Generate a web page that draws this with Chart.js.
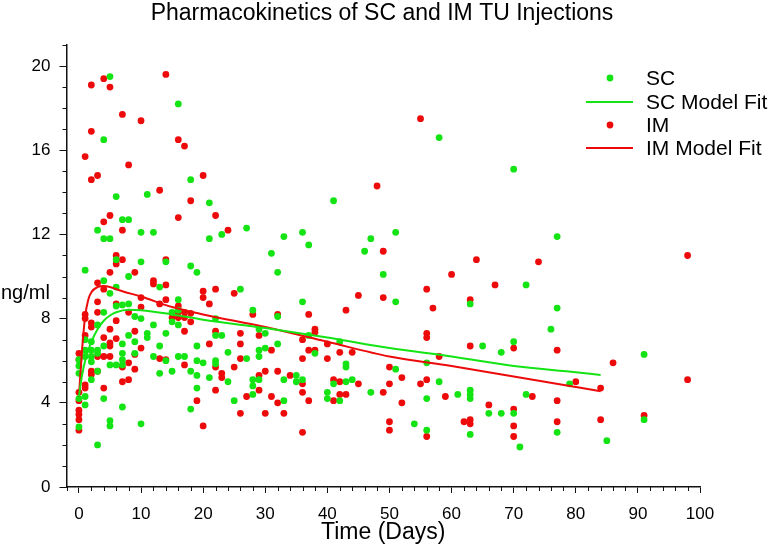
<!DOCTYPE html>
<html><head><meta charset="utf-8">
<style>html,body{margin:0;padding:0;background:#fff;}canvas{display:block;}</style>
<script src="https://cdn.jsdelivr.net/npm/chart.js@4"></script>
</head><body>
<canvas id="c" width="768" height="557"></canvas>
<script>
const chartTitle = "Pharmacokinetics of SC and IM TU Injections";
const xAxisTitle = "Time (Days)";
const yAxisTitle = "ng/ml";
const xTickValues = [0,10,20,30,40,50,60,70,80,90,100];
const yTickValues = [0,4,8,12,16,20];

const scDays = [5,16,4,18,6,11,21,7,8,3,10,12,4,5,23,21,27,33,36,41,47,58,70,51,77,37,46,31,18,19,32,26,36,16,28,32,22,22,23,29,30,37,38,42,19,32,29,30,24,27,29,17,16,19,20,22,22,18,19,21,24,28,28,28,29,33,35,35,36,19,25,33,18,40,40,41,42,43,43,43,44,47,49,51,72,63,77,76,65,68,70,51,56,58,56,61,63,63,63,72,66,68,70,54,56,63,71,77,79,91,91,85,1,6,10,14,8,4,13,5,6,6,7,8,4,9,10,15,15,16,16,12,3,1,8,11,11,14,2,2,3,3,2,2,1,1,0,0,0,2,3,4,5,6,7,7,7,7,9,9,13,14,12,13,15,0,1,1,4,7,0,5,5,10,3];
const scConc = [19.5,18.2,16.5,14.6,13.8,13.9,13.5,12.7,12.7,12.2,12.1,12.1,11.8,11.8,12.0,11.8,12.3,11.9,12.1,13.6,11.8,16.6,15.1,12.1,11.9,11.5,11.2,11.1,10.5,10.2,10.2,9.4,8.8,8.9,8.4,8.1,8.0,7.2,7.2,7.5,7.3,7.2,6.35,6.9,6.7,6.8,6.5,6.6,6.4,6.1,6.2,6.2,6.2,6.0,5.9,6.0,5.85,5.5,5.3,5.2,5.0,5.1,4.8,4.4,5.1,5.1,5.3,5.0,5.1,4.7,4.1,4.1,3.7,4.5,4.2,4.9,4.1,5.7,5.85,5.0,5.1,4.5,10.1,8.8,9.6,8.7,8.5,7.5,6.7,6.4,6.9,5.6,5.9,5.0,4.2,4.4,4.6,4.4,4.2,4.4,3.5,3.5,3.5,3.0,2.7,2.5,1.9,2.6,4.9,6.3,3.2,2.2,10.3,10.8,10.7,10.7,10.0,9.8,9.5,9.2,9.5,8.6,8.65,8.7,8.3,8.1,8.0,8.3,7.85,8.4,7.7,7.7,7.7,7.0,7.2,7.3,7.1,7.3,6.9,6.5,6.5,6.35,6.2,5.95,6.5,6.2,6.05,5.75,5.4,5.1,5.5,6.7,5.8,5.8,5.8,6.8,6.35,6.05,6.9,6.35,6.7,6.0,6.2,5.4,5.5,4.2,4.3,3.9,4.2,3.8,2.85,3.15,2.9,3.0,2.0];

const imDays = [2,4,5,14,7,10,2,16,17,1,8,2,3,20,13,18,5,4,16,7,22,24,48,55,6,6,7,14,5,9,3,12,12,14,4,10,3,13,14,6,10,8,3,1,1,6,5,2,2,1,4,5,6,5,9,0,0,2,2,3,4,3,5,7,9,8,10,9,7,8,13,14,0,0,1,1,4,0,0,0,0,16,16,17,15,16,17,18,18,17,20,20,22,21,25,45,43,37,28,32,38,38,22,26,29,36,37,38,40,42,44,40,36,21,26,31,26,17,22,25,23,23,29,30,29,32,34,36,36,22,19,27,31,32,37,26,30,33,20,36,41,42,42,43,41,45,49,49,64,74,60,56,67,57,63,56,56,63,70,77,58,50,52,50,49,55,56,52,59,73,77,66,70,62,63,63,50,50,56,70,70,77,80,98,86,84,98,84,91];
const imConc = [19.1,19.4,19.0,19.6,17.7,17.4,16.9,16.5,16.2,15.7,15.3,14.6,14.8,14.8,14.1,13.6,12.9,12.6,12.8,12.2,12.9,12.2,14.3,17.5,11.0,10.6,10.8,10.8,10.2,10.2,9.7,9.8,9.65,9.6,9.4,9.0,8.8,8.7,8.9,8.7,8.55,8.3,8.3,8.2,8.0,7.9,7.5,7.8,7.6,7.2,7.1,6.85,7.05,6.7,7.4,6.35,6.05,5.5,5.35,5.5,6.2,6.2,6.2,5.7,6.3,5.9,6.6,5.6,5.0,5.1,6.1,6.05,4.5,4.1,4.85,4.7,4.7,3.65,3.45,3.2,2.7,8.6,8.3,8.3,8.05,8.05,8.05,8.25,7.85,7.4,9.3,9.0,9.4,8.7,9.2,9.1,8.4,8.2,8.2,8.2,7.5,7.35,7.4,7.3,7.2,7.0,6.5,6.5,6.8,6.4,6.4,6.1,6.1,6.8,6.8,6.5,6.1,5.8,5.7,5.7,5.4,5.2,5.3,5.5,4.6,5.5,5.3,4.9,4.5,4.6,4.1,4.3,4.3,4.0,4.1,3.5,3.5,3.5,2.9,2.6,5.1,5.0,4.4,4.4,4.1,4.9,11.2,9.0,10.8,10.7,10.1,9.4,9.6,8.5,8.9,7.3,7.1,6.7,6.6,6.5,6.2,5.7,5.2,4.9,4.5,4.9,5.1,4.0,4.3,4.3,4.1,3.9,3.7,3.1,3.2,3.0,3.1,2.7,2.4,2.9,2.4,3.1,5.0,11.0,5.9,4.7,5.1,3.2,3.4];

const scFitDays = [0,0.5,1,1.5,2,3,4,5,6,8,10,15,20,30,40,50,60,70,80,84];
const scFitConc = [4.3,5.3,6.0,6.5,6.9,7.5,7.9,8.15,8.3,8.42,8.4,8.2,7.95,7.55,7.1,6.6,6.2,5.75,5.45,5.32];
const imFitDays = [0,0.5,1,1.5,2,3,4,5,7,10,15,20,30,40,50,60,70,80,84];
const imFitConc = [4.3,6.5,8.1,8.9,9.25,9.5,9.55,9.5,9.3,9.05,8.55,8.2,7.6,6.9,6.2,5.75,5.25,4.75,4.55];

const GREEN = '#14e314';
const RED = '#ec0a0a';
const FONT = "'Liberation Sans', Arial, sans-serif";

const toXY = (xs, ys) => xs.map((v, i) => ({x: v, y: ys[i]}));

const decor = {
  id: 'decor',
  afterDraw(chart) {
    const {ctx, scales: {x, y}} = chart;
    ctx.save();
    ctx.strokeStyle = '#111';
    ctx.lineWidth = 1;
    const axisY = y.bottom;
    for (let v = x.min; v <= x.max; v += 2) {
      if (v % 10 === 0) continue;
      const px = Math.round(x.getPixelForValue(v)) + 0.5;
      ctx.beginPath(); ctx.moveTo(px, axisY); ctx.lineTo(px, axisY + 4); ctx.stroke();
    }
    const axisX = x.left;
    for (let v = y.min; v <= y.max; v += 1) {
      if (v % 4 === 0) continue;
      const py = Math.round(y.getPixelForValue(v)) + 0.5;
      ctx.beginPath(); ctx.moveTo(axisX, py); ctx.lineTo(axisX - 4, py); ctx.stroke();
    }
    ctx.fillStyle = '#000';
    ctx.font = '23px ' + FONT;
    ctx.textAlign = 'center'; ctx.textBaseline = 'middle';
    ctx.fillText(chartTitle, 382, 14);
    ctx.font = '20px ' + FONT;
    ctx.textAlign = 'left'; ctx.textBaseline = 'alphabetic';
    ctx.fillText(yAxisTitle, 1, 299);
    // legend
    ctx.font = '21px ' + FONT;
    const rows = [78, 102, 125, 148];
    chart.data.datasets.forEach((ds, i) => {
      const ry = rows[i];
      if (ds.showLine) {
        ctx.strokeStyle = ds.borderColor; ctx.lineWidth = 2;
        ctx.beginPath(); ctx.moveTo(586, ry); ctx.lineTo(633, ry); ctx.stroke();
      } else {
        ctx.fillStyle = ds.pointBackgroundColor;
        ctx.beginPath(); ctx.arc(610, ry, 3.4, 0, Math.PI * 2); ctx.fill();
      }
      ctx.fillStyle = '#000';
      ctx.textBaseline = 'middle';
      ctx.fillText(ds.label, 646, ry + 1);
    });
    ctx.restore();
  }
};

new Chart(document.getElementById('c'), {
  type: 'scatter',
  data: {
    datasets: [
      {label: 'SC', data: toXY(scDays, scConc), showLine: false, pointRadius: 3.4, pointBorderWidth: 0,
       pointBackgroundColor: GREEN, backgroundColor: GREEN, borderColor: GREEN, order: 2},
      {label: 'SC Model Fit', data: toXY(scFitDays, scFitConc), showLine: true, pointRadius: 0,
       borderColor: GREEN, borderWidth: 2, cubicInterpolationMode: 'monotone', order: 0},
      {label: 'IM', data: toXY(imDays, imConc), showLine: false, pointRadius: 3.4, pointBorderWidth: 0,
       pointBackgroundColor: RED, backgroundColor: RED, borderColor: RED, order: 3},
      {label: 'IM Model Fit', data: toXY(imFitDays, imFitConc), showLine: true, pointRadius: 0,
       borderColor: RED, borderWidth: 2, cubicInterpolationMode: 'monotone', order: 1}
    ]
  },
  options: {
    responsive: false,
    animation: false,
    devicePixelRatio: 1,
    layout: {padding: {left: 0, right: 68, top: 45, bottom: 0}},
    plugins: {legend: {display: false}, title: {display: false}, tooltip: {enabled: false}},
    scales: {
      x: {
        type: 'linear', min: -2, max: 100,
        afterBuildTicks: s => { s.ticks = xTickValues.map(v => ({value: v})); },
        afterFit: s => { s.height = 70; },
        ticks: {font: {size: 17, family: FONT}, color: '#000', padding: 11, maxRotation: 0},
        grid: {drawOnChartArea: false, drawTicks: true, tickLength: 6, color: '#111', tickColor: '#111'},
        border: {display: true, color: '#111', width: 1.5},
        title: {display: true, text: xAxisTitle, font: {size: 23, family: FONT}, color: '#000', padding: {top: 0, bottom: 11}}
      },
      y: {
        type: 'linear', min: 0, max: 21,
        afterBuildTicks: s => { s.ticks = yTickValues.map(v => ({value: v})); },
        afterFit: s => { s.width = 66.5; },
        ticks: {font: {size: 17, family: FONT}, color: '#000', padding: 9},
        grid: {drawOnChartArea: false, drawTicks: true, tickLength: 7, color: '#111', tickColor: '#111'},
        border: {display: true, color: '#111', width: 1.5}
      }
    }
  },
  plugins: [decor]
});
</script>
</body></html>
